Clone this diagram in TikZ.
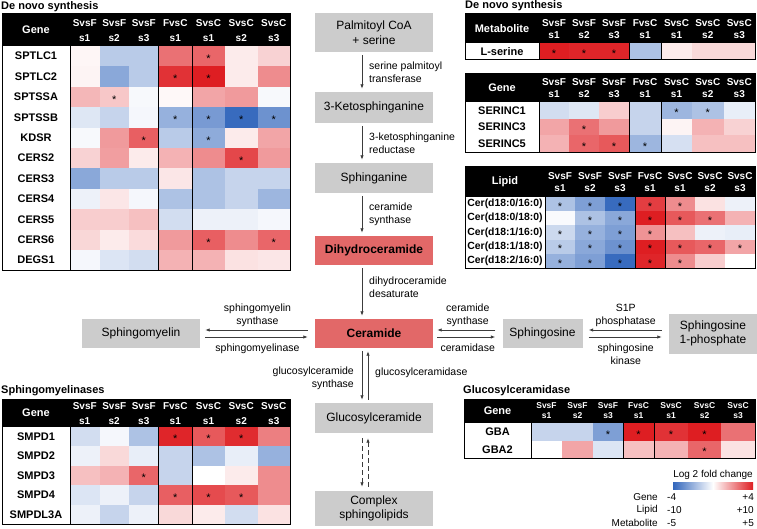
\documentclass[tikz,border=0pt]{standalone}
\usepackage{fontspec}
\setmainfont{Liberation Sans}
\usepackage{xcolor}
\definecolor{hmRed}    {RGB}{222,30,34}
\definecolor{hmBlue}   {RGB}{50,102,188}
\definecolor{boxGrey}  {RGB}{204,204,204}
\definecolor{boxRed}   {RGB}{226,104,104}
\definecolor{arrowGrey}{RGB}{60,60,60}
\usetikzlibrary{arrows.meta, positioning, calc}
\tikzset{
    hm/.code={\pgfmathtruncatemacro\hmval{min(100,abs(#1)*1.15)}%
        \ifnum#1<0\relax\pgfkeysalso{/tikz/fill/.expanded=hmBlue!\hmval!white}%
        \else\pgfkeysalso{/tikz/fill/.expanded=hmRed!\hmval!white}\fi},
    tframe/.style={draw=black, line width=1pt},
    tsep/.style={black, line width=1pt},
    title/.style={anchor=west, font=\fontsize{11}{13}\selectfont\bfseries, inner sep=0pt},
    colhead/.style={text=white, font=\fontsize{10}{15}\selectfont\bfseries,
                    align=center, inner sep=0pt},
    corner/.style={text=white, font=\fontsize{11}{13}\selectfont\bfseries, inner sep=0pt},
    rowlab/.style={font=\fontsize{11}{13}\selectfont\bfseries, inner sep=0pt},
    hstar/.style={font=\fontsize{11}{12}\selectfont, inner sep=0pt, yshift=-2.5pt},
    pbox/.style={fill=boxGrey, minimum width=118pt, minimum height=30pt,
                 inner sep=1pt, align=center, font=\fontsize{12}{14.5}\selectfont},
    pred/.style={pbox, fill=boxRed, font=\fontsize{12}{14.5}\selectfont\bfseries},
    rxn/.style={-{Latex[length=4.5pt,width=3.5pt]}, line width=0.8pt, arrowGrey},
    enz/.style={font=\fontsize{10.5}{13}\selectfont, align=center, inner sep=0pt},
    enzv/.style={enz, align=left, anchor=west},
    legt/.style={font=\fontsize{10}{12}\selectfont, inner sep=0pt},
}
% column edges of a heat map, edge of the label column first
\newcommand{\setedges}[2]{%
    \foreach \x [count=\i from 0] in {#2} {\expandafter\xdef\csname edge#1\i\endcsname{\x}}}
% #1 name, #2 edges, #3 y of the header centre
\newcommand{\heathead}[3]{%
    \foreach \hcmp/\hsub [count=\c] in {SvsF/s1,SvsF/s2,SvsF/s3,FvsC/s1,SvsC/s1,SvsC/s2,SvsC/s3} {
        \edef\xa{\csname edge#2\the\numexpr\c-1\relax\endcsname}
        \edef\xb{\csname edge#2\c\endcsname}
        \pgfmathsetmacro\xm{(\xa+\xb)/2}
        \node[colhead] (#1h\c) at (\xm,#3) {\hcmp\\\hsub};
    }%
}
% #1 name, #2 edges, #3 label x, #4 first row y, #5 row height, #6 rows
\newcommand{\heatrows}[6]{%
    \foreach \lab/\vals [count=\r] in {#6} {
        \pgfmathsetmacro\ya{#4+(\r-1)*#5}
        \pgfmathsetmacro\yb{#4+\r*#5}
        \foreach \v [count=\c] in \vals {
            \edef\xa{\csname edge#2\the\numexpr\c-1\relax\endcsname}
            \edef\xb{\csname edge#2\c\endcsname}
            \fill[hm=\v] (\xa,\ya) rectangle (\xb,\yb);
        }
        \node[rowlab] (#1r\r) at (#3,{(\ya+\yb)/2}) {\lab};
    }%
}
% #1 name, #2 edges, #3 first row y, #4 row height, #5 row/column pairs
\newcommand{\heatstars}[5]{%
    \foreach \r/\c in {#5} {
        \edef\xa{\csname edge#2\the\numexpr\c-1\relax\endcsname}
        \edef\xb{\csname edge#2\c\endcsname}
        \pgfmathsetmacro\xm{(\xa+\xb)/2}
        \pgfmathsetmacro\ym{#3+(\r-0.5)*#4}
        \node[hstar] (#1s\r\c) at (\xm,\ym) {*};
    }%
}
\setedges{L}{70,99.5,129,158.5,192,225,257.5,290}
\setedges{M}{539,569,599,629,661,692,723.5,755}
\setedges{P}{545,575,605,635,665,695,725,755}
\setedges{G}{531,562,593,623,654,688,721,755}

\begin{document}
\begin{tikzpicture}[x=1pt, y=-1pt]
\fill[white] (0,0) rectangle (757,529);
\useasboundingbox (0,0) rectangle (757,529);

% De novo synthesis: genes (top left)
\node[title] (t1title) at (1,7) {De novo synthesis};
\fill[black] (2,14) rectangle (290,46);
\node[corner] (t1corner) at (36,30) {Gene};
\heathead{t1}{L}{31}
\heatrows{t1}{L}{36}{46}{20.4}{
    SPTLC1/{4,-30,-30,55,60,8,18},
    SPTLC2/{5,-50,-30,80,88,8,45},
    SPTSSA/{28,22,-4,3,35,40,-4},
    SPTSSB/{-14,-25,-5,-45,-58,-85,-62},
    KDSR/{-4,40,62,-30,-48,8,35},
    CERS2/{18,38,8,30,45,72,40},
    CERS3/{-50,-30,-30,10,-35,-25,-25},
    CERS4/{-8,10,-5,-35,-35,-25,-42},
    CERS5/{20,20,25,-20,-8,-8,-5},
    CERS6/{16,8,14,40,62,45,60},
    DEGS1/{-5,-15,-20,30,30,12,10}}
\draw[tsep] (70,46) -- (70,270.4) (158.5,46) -- (158.5,270.4) (192,46) -- (192,270.4);
\draw[tframe] (2,14) rectangle (290,270.4);
\heatstars{t1}{L}{46}{20.4}{1/5,2/4,2/5,3/2,4/4,4/5,4/6,4/7,5/3,5/5,6/6,10/5,10/7}

% Sphingomyelinases (bottom left)
\node[title] (t2title) at (1,391) {Sphingomyelinases};
\fill[black] (2,399) rectangle (290,427);
\node[corner] (t2corner) at (36,413) {Gene};
\heathead{t2}{L}{414}
\heatrows{t2}{L}{36}{427}{19.4}{
    SMPD1/{-20,-5,-35,85,65,82,50},
    SMPD2/{-8,15,-10,-25,-35,-10,-45},
    SMPD3/{25,30,60,-25,0,8,45},
    SMPD4/{-15,-8,-25,62,70,65,45},
    SMPDL3A/{-8,-25,-8,15,8,-20,12}}
\draw[tsep] (70,427) -- (70,524) (158.5,427) -- (158.5,524) (192,427) -- (192,524);
\draw[tframe] (2,399) rectangle (290,524);
\heatstars{t2}{L}{427}{19.4}{1/4,1/5,1/6,3/3,4/4,4/5,4/6}

% De novo synthesis: metabolite, genes, lipids (top right)
\node[title] (t3title) at (465,6) {De novo synthesis};
\begin{scope}[colhead/.append style={font=\fontsize{10}{12}\selectfont\bfseries}]
\fill[black] (465,14) rectangle (755,43);
\node[corner] (t3corner) at (502,28.5) {Metabolite};
\heathead{t3}{M}{29}
\heatrows{t3}{M}{502}{43}{17}{
    L-serine/{90,85,85,-35,8,15,15}}
\draw[tsep] (539,43) -- (539,60) (629,43) -- (629,60) (661,43) -- (661,60);
\draw[tframe] (465,14) rectangle (755,60);
\heatstars{t3}{M}{43}{17}{1/1,1/2,1/3}

\fill[black] (465,74) rectangle (755,102);
\node[corner] (t4corner) at (502,88) {Gene};
\heathead{t4}{M}{88.5}
\heatrows{t4}{M}{502}{102}{16.7}{
    SERINC1/{-20,-14,20,-25,-42,-35,-10},
    SERINC3/{35,55,40,-25,5,30,18},
    SERINC5/{30,60,65,-42,-18,25,25}}
\draw[tsep] (539,102) -- (539,152.1) (629,102) -- (629,152.1) (661,102) -- (661,152.1);
\draw[tframe] (465,74) rectangle (755,152.1);
\heatstars{t4}{M}{102}{16.7}{1/5,1/6,2/2,3/2,3/3,3/4}

\fill[black] (465,167) rectangle (755,197);
\node[corner] (t5corner) at (505,182) {Lipid};
\heathead{t5}{P}{182.5}
\begin{scope}[rowlab/.append style={font=\fontsize{10.4}{12}\selectfont\bfseries}]
\heatrows{t5}{P}{505}{197}{14.2}{
    {Cer(d18:0/16:0)}/{-35,-55,-85,75,45,12,-8},
    {Cer(d18:0/18:0)}/{-3,-35,-50,95,65,55,30},
    {Cer(d18:1/16:0)}/{-22,-45,-55,42,25,-8,-10},
    {Cer(d18:1/18:0)}/{-30,-50,-62,95,65,60,35},
    {Cer(d18:2/16:0)}/{-45,-55,-85,85,45,20,0}}
\end{scope}
\draw[tsep] (545,197) -- (545,268) (635,197) -- (635,268) (665,197) -- (665,268);
\draw[tframe] (465,167) rectangle (755,268);
\heatstars{t5}{P}{197}{14.2}{1/1,1/2,1/3,1/4,1/5,2/2,2/3,2/4,2/5,2/6,
    3/1,3/2,3/3,3/4,4/1,4/2,4/3,4/4,4/5,4/6,4/7,5/1,5/2,5/3,5/4,5/5}
\end{scope}

% Glucosylceramidase (bottom right)
\node[title] (t6title) at (463,391) {Glucosylceramidase};
\begin{scope}[colhead/.append style={font=\fontsize{8.5}{10}\selectfont\bfseries}]
\fill[black] (464,399) rectangle (755,423);
\node[corner] (t6corner) at (497.5,411) {Gene};
\heathead{t6}{G}{411}
\heatrows{t6}{G}{497.5}{423}{17.5}{
    GBA/{-25,-25,-55,90,80,92,55},
    GBA2/{0,35,-15,25,30,60,12}}
\draw[tsep] (531,423) -- (531,458) (623,423) -- (623,458) (654,423) -- (654,458);
\draw[tframe] (464,399) rectangle (755,458);
\heatstars{t6}{G}{423}{17.5}{1/3,1/4,1/5,1/6,2/6}
\end{scope}

% Legend
\node[legt] (legtitle) at (713,475) {Log 2 fold change};
\shade[left color=hmBlue, right color=hmRed, middle color=white] (673,482) rectangle (753,489);
\foreach \what/\lo/\hi/\yy [count=\k] in {Gene/-4/+4/497, Lipid/-10/+10/510, Metabolite/-5/+5/523} {
    \node[legt, anchor=east] (leg\k) at (658,\yy) {\what};
    \node[legt, anchor=west] (leglo\k) at (667,\yy) {\lo};
    \node[legt, anchor=east] (leghi\k) at (754,\yy) {\hi};
}

% Pathway
\node[pbox, minimum height=39pt] (pcoa) at (374,32.5) {Palmitoyl CoA\\+ serine};
\node[pbox, minimum height=31pt] (kts)  at (374,107.5) {3-Ketosphinganine};
\node[pbox] (spa)  at (374,178) {Sphinganine};
\node[pred, minimum height=29pt] (dhc) at (374,250.5) {Dihydroceramide};
\node[pred, minimum height=29pt] (cer) at (374,333.5) {Ceramide};
\node[pbox] (glc)  at (374,418) {Glucosylceramide};
\node[pbox, minimum height=35pt] (csl) at (374,508.5) {Complex\\sphingolipids};
\node[pbox, minimum height=29pt] (sm) at (141,333.5) {Sphingomyelin};
\node[pbox, minimum width=80pt, minimum height=29pt] (spo) at (542.5,333.5) {Sphingosine};
\node[pbox, minimum width=88pt, minimum height=40pt] (s1p) at (713,333.5) {Sphingosine\\1-phosphate};

% de novo steps
\draw[rxn] ($(pcoa.south)+(-12,3)$) -- ($(kts.north)+(-12,-3)$);
\node[enzv] (e1) at ($(pcoa.south)!0.5!(kts.north)+(-5,0)$) {serine palmitoyl\\transferase};
\draw[rxn] ($(kts.south)+(-12,3)$) -- ($(spa.north)+(-12,-3)$);
\node[enzv] (e2) at ($(kts.south)!0.5!(spa.north)+(-5,0)$) {3-ketosphinganine\\reductase};
\draw[rxn] ($(spa.south)+(-12,3)$) -- ($(dhc.north)+(-12,-3)$);
\node[enzv] (e3) at ($(spa.south)!0.5!(dhc.north)+(-5,0)$) {ceramide\\synthase};
\draw[rxn] ($(dhc.south)+(-12,3)$) -- ($(cer.north)+(-12,-3)$);
\node[enzv] (e4) at ($(dhc.south)!0.5!(cer.north)+(-5,-5)$) {dihydroceramide\\desaturate};

% side branches
\draw[rxn] ($(cer.west)+(-7,-3.5)$) -- ($(sm.east)+(5,-3.5)$);
\draw[rxn] ($(sm.east)+(5,3.5)$) -- ($(cer.west)+(-7,3.5)$);
\node[enz, anchor=south] (e5) at ($(sm.east)!0.5!(cer.west)+(0,-6.5)$) {sphingomyelin\\synthase};
\node[enz, anchor=north] (e6) at ($(sm.east)!0.5!(cer.west)+(0,10.5)$) {sphingomyelinase};
\draw[rxn] ($(spo.west)+(-7,-3.5)$) -- ($(cer.east)+(4,-3.5)$);
\draw[rxn] ($(cer.east)+(4,3.5)$) -- ($(spo.west)+(-7,3.5)$);
\node[enz, anchor=south] (e7) at ($(cer.east)!0.5!(spo.west)+(0,-6.5)$) {ceramide\\synthase};
\node[enz, anchor=north] (e8) at ($(cer.east)!0.5!(spo.west)+(0,10.5)$) {ceramidase};
\draw[rxn] ($(s1p.west)+(-7,-3.5)$) -- ($(spo.east)+(6,-3.5)$);
\draw[rxn] ($(spo.east)+(6,3.5)$) -- ($(s1p.west)+(-7,3.5)$);
\node[enz, anchor=south] (e9) at ($(spo.east)!0.5!(s1p.west)+(0,-6.5)$) {S1P\\phosphatase};
\node[enz, anchor=north] (e10) at ($(spo.east)!0.5!(s1p.west)+(0,10.5)$) {sphingosine\\kinase};

% glucosylceramide branch
\draw[rxn] ($(cer.south)+(-12,3)$) -- ($(glc.north)+(-12,-3)$);
\draw[rxn] ($(glc.north)+(-6,-3)$) -- ($(cer.south)+(-6,3)$);
\node[enz, align=right, anchor=north east] (e11) at ($(cer.south)+(-20,18.5)$) {glucosylceramide\\synthase};
\node[enz, anchor=north west] (e12) at ($(cer.south)+(1,19)$) {glucosylceramidase};
\draw[rxn, dash pattern=on 5pt off 3pt] ($(glc.south)+(-12,5)$) -- ($(csl.north)+(-12,-4)$);
\draw[rxn, dash pattern=on 5pt off 3pt] ($(csl.north)+(-6,-4)$) -- ($(glc.south)+(-6,5)$);
\end{tikzpicture}
\end{document}
